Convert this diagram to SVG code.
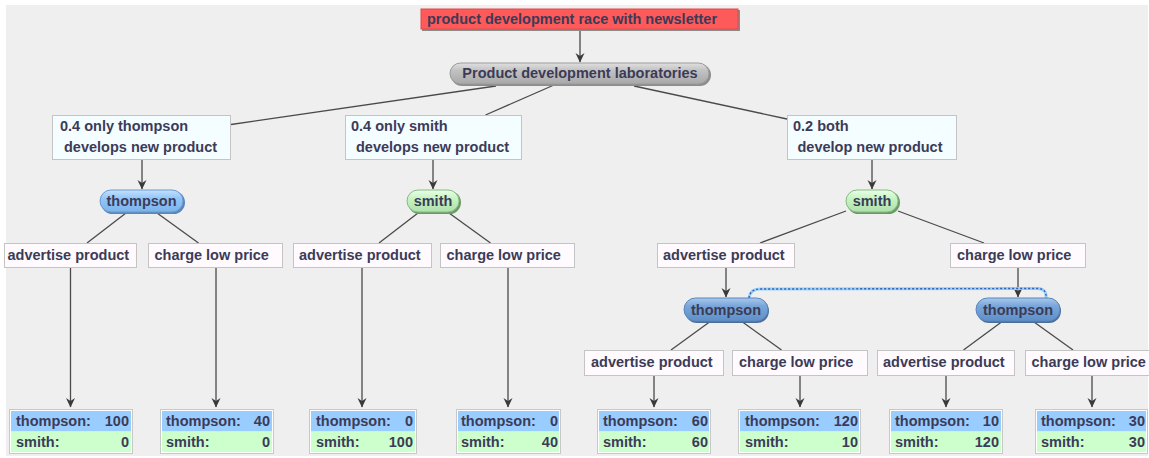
<svg xmlns="http://www.w3.org/2000/svg" width="1149" height="458" viewBox="0 0 1149 458">
<style>
.t{font-family:"Liberation Sans",Arial,sans-serif;font-weight:bold;font-size:14.5px;fill:#3b3b58}
.c{text-anchor:middle}
.e{text-anchor:end}
.box{stroke:#c4c4c4;stroke-width:1}
.prob{fill:#f4fdff}
.act{fill:#fffafd}
.ln{stroke:#4a4a4a;stroke-width:1.3;fill:none}
.ar{stroke:#4a4a4a;stroke-width:1.3;fill:none;marker-end:url(#ah)}
.pb{fill:#fff;stroke:#c8c8c8}
.rowT{fill:#99ccff}
.rowS{fill:#ccffcc}
</style>
<defs>
<marker id="ah" markerWidth="10" markerHeight="10" refX="9" refY="5" orient="auto" markerUnits="userSpaceOnUse">
<path d="M0,0.5 L9.5,5 L0,9.5 L3,5 z" fill="#3a3a3a"/>
</marker>
<linearGradient id="gGray" x1="0" y1="0" x2="0" y2="1"><stop offset="0" stop-color="#e0e0e0"/><stop offset="0.35" stop-color="#c2c2c2"/><stop offset="1" stop-color="#a8a8a8"/></linearGradient>
<linearGradient id="gBlue" x1="0" y1="0" x2="0" y2="1"><stop offset="0" stop-color="#c4e2ff"/><stop offset="0.35" stop-color="#94c8fa"/><stop offset="1" stop-color="#7ab2ea"/></linearGradient>
<linearGradient id="gGreen" x1="0" y1="0" x2="0" y2="1"><stop offset="0" stop-color="#eaffea"/><stop offset="0.35" stop-color="#c8f6c4"/><stop offset="1" stop-color="#aee0aa"/></linearGradient>
<linearGradient id="gDBlue" x1="0" y1="0" x2="0" y2="1"><stop offset="0" stop-color="#a8c8ec"/><stop offset="0.35" stop-color="#78a6da"/><stop offset="1" stop-color="#5f8fc8"/></linearGradient>
</defs>
<rect x="0" y="0" width="1149" height="458" fill="#ffffff"/>
<rect x="6" y="5" width="1142" height="451" fill="#efefef"/>

<g id="connectors">
<line class="ar" x1="580" y1="30" x2="580" y2="62"/>
<line class="ln" x1="496" y1="86" x2="231" y2="124.5"/>
<line class="ln" x1="554" y1="85" x2="485.5" y2="115"/>
<line class="ln" x1="634" y1="86" x2="787" y2="119"/>
<line class="ar" x1="142" y1="160" x2="142" y2="189"/>
<line class="ar" x1="433" y1="160" x2="433" y2="189"/>
<line class="ar" x1="872" y1="160" x2="872" y2="189"/>
<line class="ln" x1="126" y1="213" x2="87" y2="243"/>
<line class="ln" x1="157" y1="213" x2="198.5" y2="243"/>
<line class="ln" x1="418" y1="213" x2="379" y2="243"/>
<line class="ln" x1="449" y1="213" x2="490.5" y2="243"/>
<line class="ln" x1="846" y1="211" x2="760" y2="243"/>
<line class="ln" x1="898" y1="211" x2="984" y2="243"/>
<line class="ar" x1="726" y1="268" x2="726" y2="297"/>
<line class="ar" x1="1018" y1="268" x2="1018" y2="297"/>
<line class="ln" x1="709.5" y1="322" x2="671" y2="350"/>
<line class="ln" x1="742.5" y1="322" x2="781.5" y2="350"/>
<line class="ln" x1="1001.5" y1="322" x2="963.5" y2="350"/>
<line class="ln" x1="1034" y1="322" x2="1073" y2="350"/>
<line class="ar" x1="70.5" y1="268" x2="70.5" y2="407"/>
<line class="ar" x1="216" y1="268" x2="216" y2="407"/>
<line class="ar" x1="362" y1="268" x2="362" y2="407"/>
<line class="ar" x1="508" y1="268" x2="508" y2="407"/>
<line class="ar" x1="654" y1="376" x2="654" y2="407"/>
<line class="ar" x1="800" y1="376" x2="800" y2="407"/>
<line class="ar" x1="946" y1="376" x2="946" y2="407"/>
<line class="ar" x1="1092" y1="376" x2="1092" y2="407"/>
<path d="M749,298 Q750,289 760,289 L1038,288.5 Q1047,289 1046,298" fill="none" stroke="#9ad0f5" stroke-width="3"/>
<path d="M749,298 Q750,289 760,289 L1038,288.5 Q1047,289 1046,298" fill="none" stroke="#2f5fbf" stroke-width="1.4" stroke-dasharray="2,2"/>
</g>

<g id="n-root">
<rect x="422" y="10" width="318" height="21" fill="#8a8a8a"/>
<rect x="421" y="9" width="317" height="20" fill="#ff5a5a" stroke="#e04848"/>
<text class="t" x="427" y="24">product development race with newsletter</text>
</g>

<g id="n-labs">
<rect x="451" y="64" width="260" height="22" rx="11" fill="#8c8c8c"/>
<rect x="450" y="63" width="259" height="21" rx="10.5" fill="url(#gGray)" stroke="#9a9a9a"/>
<text class="t" x="580" y="78" text-anchor="middle">Product development laboratories</text>
</g>

<g id="n-p1">
<rect class="box prob" x="52.5" y="115.5" width="178" height="44"/>
<text class="t" x="60" y="131">0.4 only thompson</text>
<text class="t" x="64" y="152">develops new product</text>
</g>
<g id="n-p2">
<rect class="box prob" x="345.5" y="115.5" width="176" height="44"/>
<text class="t" x="351" y="131">0.4 only smith</text>
<text class="t" x="356" y="152">develops new product</text>
</g>
<g id="n-p3">
<rect class="box prob" x="787.5" y="115.5" width="169" height="44"/>
<text class="t" x="793" y="131">0.2 both</text>
<text class="t" x="797.5" y="152">develop new product</text>
</g>

<g id="n-thompson1">
<rect x="101" y="191" width="84" height="23" rx="11.5" fill="#5a86b8"/>
<rect x="100" y="190" width="83" height="22" rx="11" fill="url(#gBlue)" stroke="#6a9ad0"/>
<text class="t c" x="141.5" y="206">thompson</text>
</g>
<g id="n-smith1">
<rect x="408" y="191" width="53" height="23" rx="11.5" fill="#6a9a66"/>
<rect x="407" y="190" width="52" height="22" rx="11" fill="url(#gGreen)" stroke="#8ab886"/>
<text class="t c" x="433" y="206">smith</text>
</g>
<g id="n-smith2">
<rect x="847" y="191" width="53" height="23" rx="11.5" fill="#6a9a66"/>
<rect x="846" y="190" width="52" height="22" rx="11" fill="url(#gGreen)" stroke="#8ab886"/>
<text class="t c" x="872" y="206">smith</text>
</g>

<g id="n-a1"><rect class="box act" x="4.5" y="243.5" width="132" height="24"/><text class="t" x="7.5" y="260">advertise product</text></g>
<g id="n-a2"><rect class="box act" x="148.5" y="243.5" width="134" height="24"/><text class="t" x="154.5" y="260">charge low price</text></g>
<g id="n-a3"><rect class="box act" x="293.5" y="243.5" width="138" height="24"/><text class="t" x="299" y="260">advertise product</text></g>
<g id="n-a4"><rect class="box act" x="440.5" y="243.5" width="134" height="24"/><text class="t" x="446.5" y="260">charge low price</text></g>
<g id="n-a5"><rect class="box act" x="657.5" y="243.5" width="137" height="24"/><text class="t" x="663" y="260">advertise product</text></g>
<g id="n-a6"><rect class="box act" x="950.5" y="243.5" width="135" height="24"/><text class="t" x="957" y="260">charge low price</text></g>

<g id="n-thompson2">
<rect x="685" y="299" width="84" height="24" rx="12" fill="#4a6e9a"/>
<rect x="684" y="298" width="84" height="23" rx="11.5" fill="url(#gDBlue)" stroke="#5a86bc"/>
<text class="t c" x="726" y="315">thompson</text>
</g>
<g id="n-thompson3">
<rect x="977" y="299" width="84" height="24" rx="12" fill="#4a6e9a"/>
<rect x="976" y="298" width="84" height="23" rx="11.5" fill="url(#gDBlue)" stroke="#5a86bc"/>
<text class="t c" x="1018" y="315">thompson</text>
</g>

<g id="n-b1"><rect class="box act" x="584.5" y="350.5" width="139" height="25"/><text class="t" x="591" y="367">advertise product</text></g>
<g id="n-b2"><rect class="box act" x="732.5" y="350.5" width="135" height="25"/><text class="t" x="739" y="367">charge low price</text></g>
<g id="n-b3"><rect class="box act" x="877.5" y="350.5" width="137" height="25"/><text class="t" x="883" y="367">advertise product</text></g>
<g id="n-b4"><rect class="box act" x="1025.5" y="350.5" width="130" height="25"/><text class="t" x="1031.5" y="367">charge low price</text></g>

<g id="n-pay1"><rect class="pb" x="9.5" y="409.5" width="123" height="44"/><rect class="rowT" x="11" y="411" width="120" height="20.5"/><rect class="rowS" x="11" y="431.5" width="120" height="20.5"/><text class="t" x="16" y="426">thompson:</text><text class="t e" x="129" y="426">100</text><text class="t" x="16" y="447">smith:</text><text class="t e" x="129" y="447">0</text></g>
<g id="n-pay2"><rect class="pb" x="160.5" y="409.5" width="113" height="44"/><rect class="rowT" x="162" y="411" width="110" height="20.5"/><rect class="rowS" x="162" y="431.5" width="110" height="20.5"/><text class="t" x="166" y="426">thompson:</text><text class="t e" x="270" y="426">40</text><text class="t" x="166" y="447">smith:</text><text class="t e" x="270" y="447">0</text></g>
<g id="n-pay3"><rect class="pb" x="309.5" y="409.5" width="107" height="44"/><rect class="rowT" x="311" y="411" width="104" height="20.5"/><rect class="rowS" x="311" y="431.5" width="104" height="20.5"/><text class="t" x="316" y="426">thompson:</text><text class="t e" x="413" y="426">0</text><text class="t" x="316" y="447">smith:</text><text class="t e" x="413" y="447">100</text></g>
<g id="n-pay4"><rect class="pb" x="456.5" y="409.5" width="104" height="44"/><rect class="rowT" x="458" y="411" width="101" height="20.5"/><rect class="rowS" x="458" y="431.5" width="101" height="20.5"/><text class="t" x="461" y="426">thompson:</text><text class="t e" x="558" y="426">0</text><text class="t" x="461" y="447">smith:</text><text class="t e" x="558" y="447">40</text></g>
<g id="n-pay5"><rect class="pb" x="597.5" y="409.5" width="113" height="44"/><rect class="rowT" x="599" y="411" width="110" height="20.5"/><rect class="rowS" x="599" y="431.5" width="110" height="20.5"/><text class="t" x="603" y="426">thompson:</text><text class="t e" x="708" y="426">60</text><text class="t" x="603" y="447">smith:</text><text class="t e" x="708" y="447">60</text></g>
<g id="n-pay6"><rect class="pb" x="738.5" y="409.5" width="122" height="44"/><rect class="rowT" x="740" y="411" width="119" height="20.5"/><rect class="rowS" x="740" y="431.5" width="119" height="20.5"/><text class="t" x="745" y="426">thompson:</text><text class="t e" x="858" y="426">120</text><text class="t" x="745" y="447">smith:</text><text class="t e" x="858" y="447">10</text></g>
<g id="n-pay7"><rect class="pb" x="889.5" y="409.5" width="113" height="44"/><rect class="rowT" x="891" y="411" width="110" height="20.5"/><rect class="rowS" x="891" y="431.5" width="110" height="20.5"/><text class="t" x="895" y="426">thompson:</text><text class="t e" x="999" y="426">10</text><text class="t" x="895" y="447">smith:</text><text class="t e" x="999" y="447">120</text></g>
<g id="n-pay8"><rect class="pb" x="1035.5" y="409.5" width="112" height="44"/><rect class="rowT" x="1037" y="411" width="109" height="20.5"/><rect class="rowS" x="1037" y="431.5" width="109" height="20.5"/><text class="t" x="1041" y="426">thompson:</text><text class="t e" x="1145" y="426">30</text><text class="t" x="1041" y="447">smith:</text><text class="t e" x="1145" y="447">30</text></g>
</svg>
